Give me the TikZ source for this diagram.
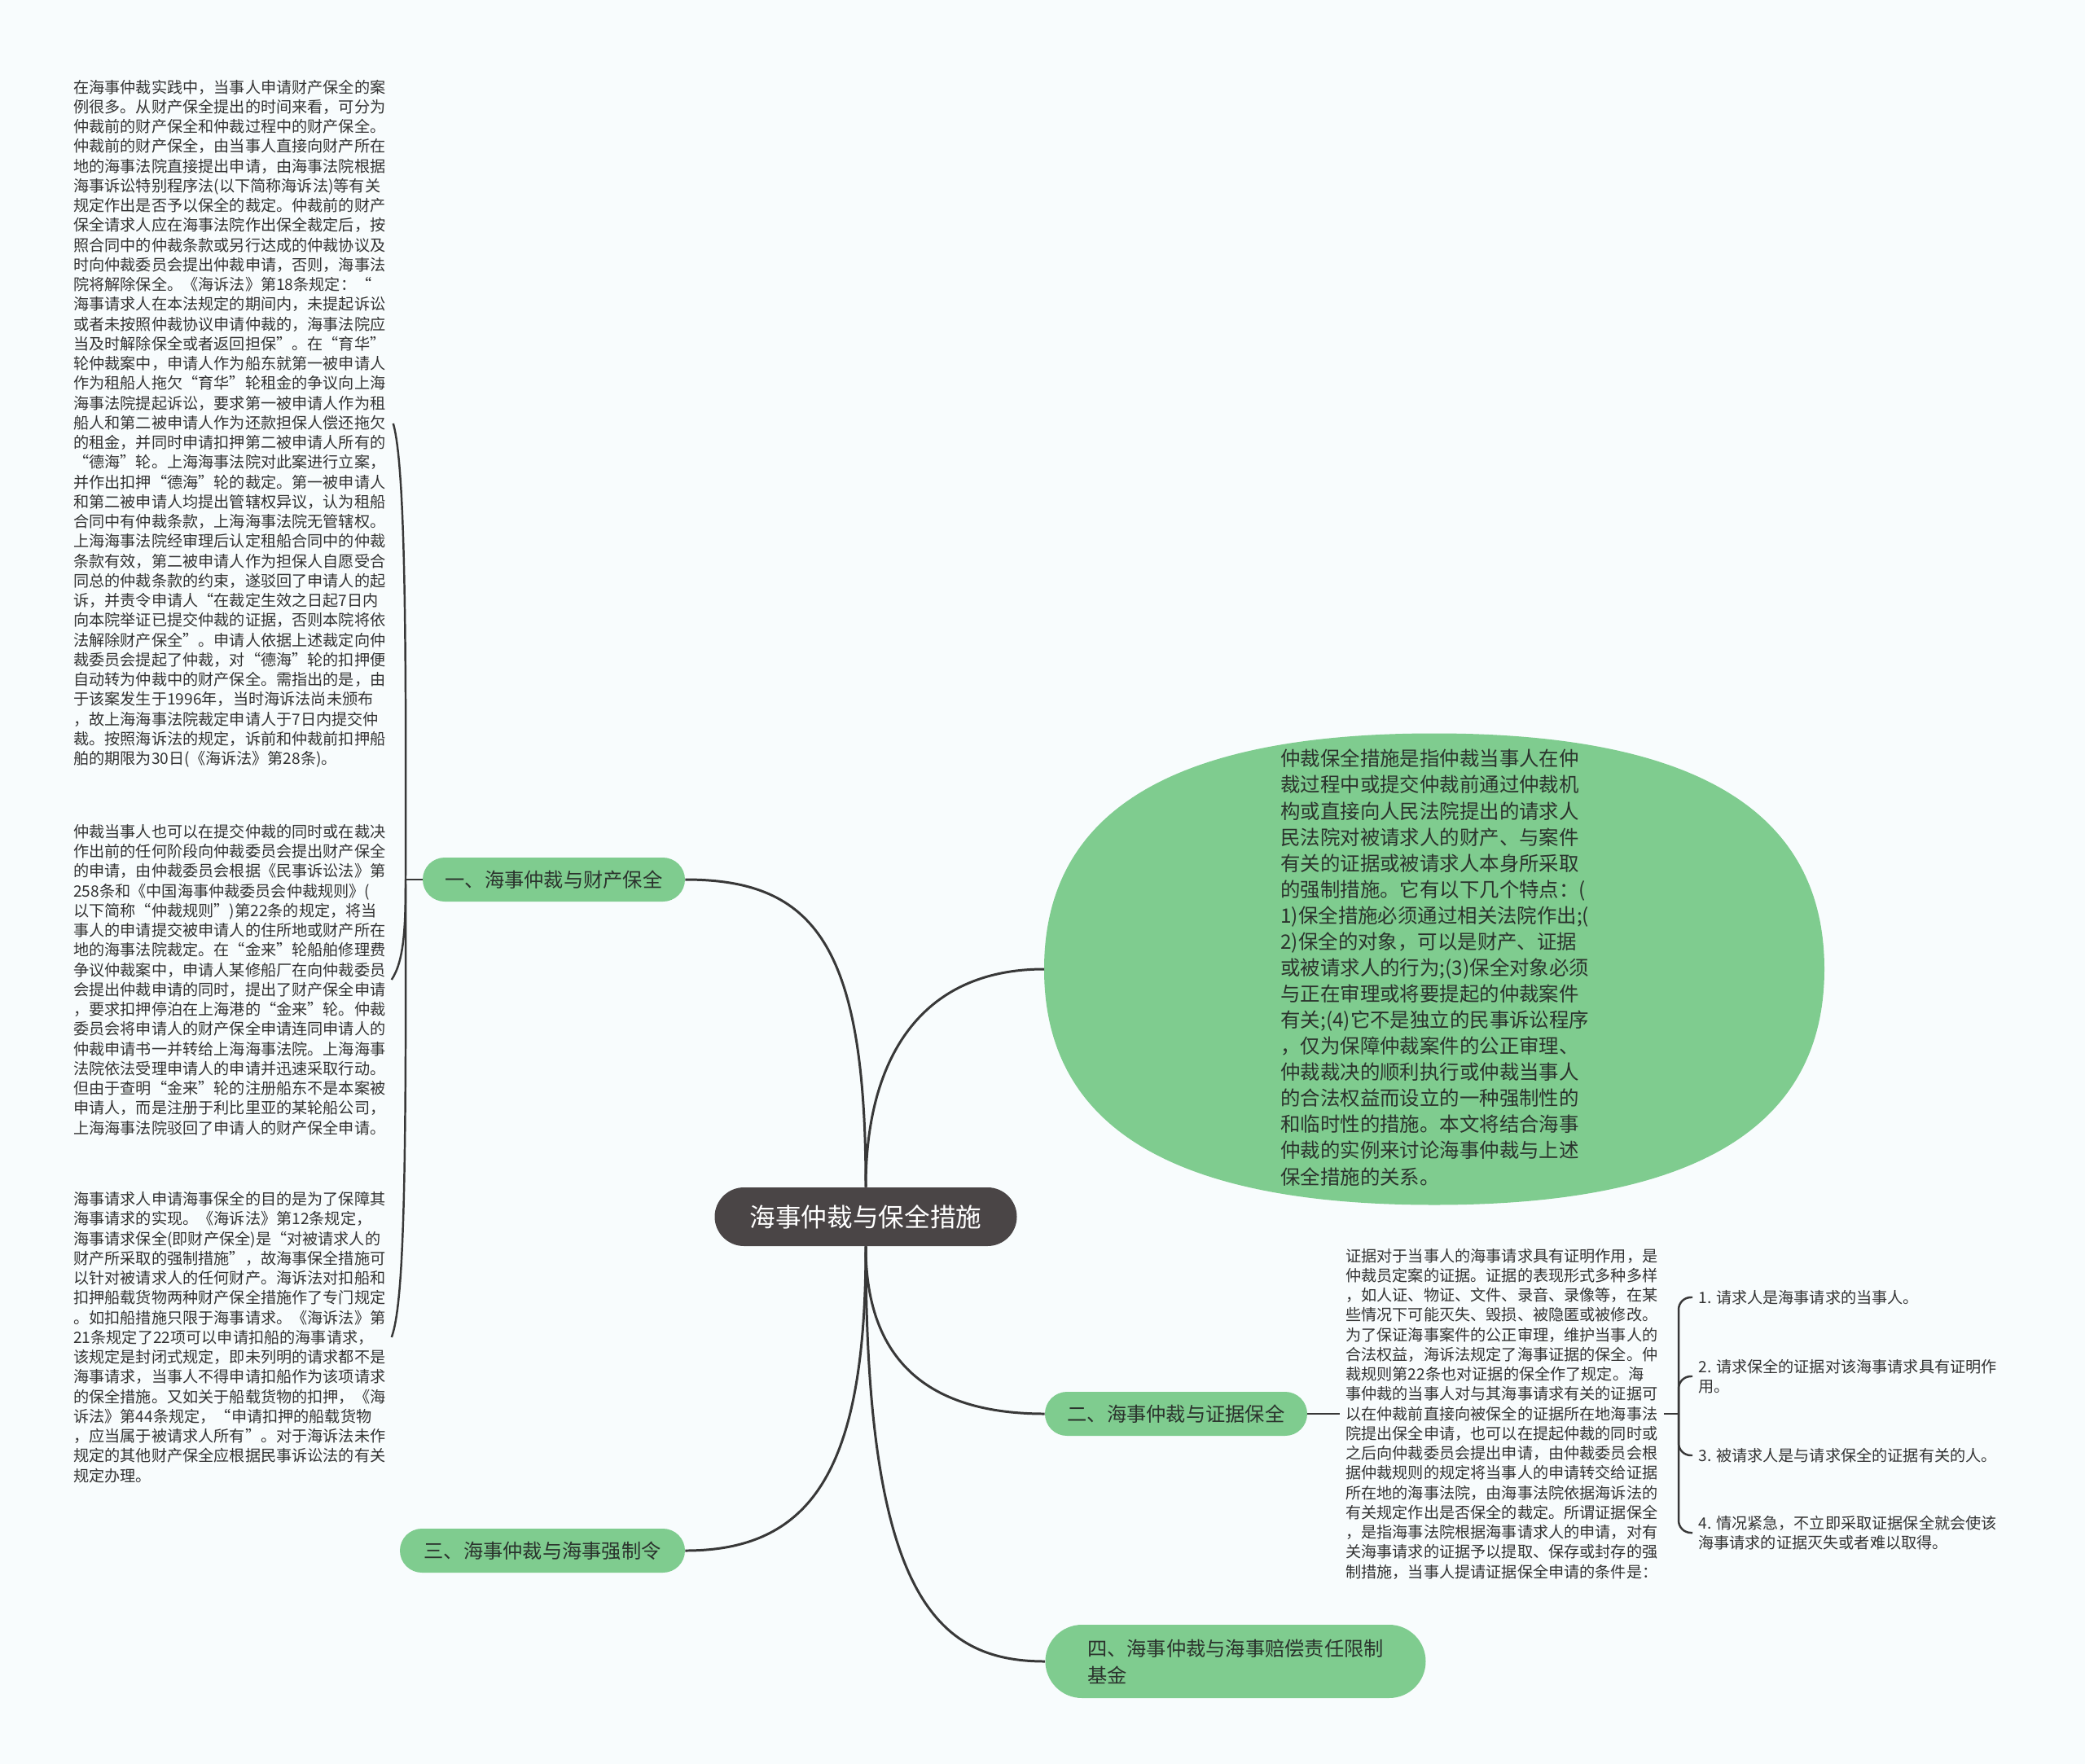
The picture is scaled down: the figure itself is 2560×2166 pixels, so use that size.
\documentclass[tikz,border=0pt]{standalone}
\usepackage{fontspec}
\setmainfont{Noto Sans CJK SC}
\usepackage{xcolor}
\usepackage{tikz}
\usetikzlibrary{calc,positioning}
\definecolor{paper}{HTML}{F8FCFD}
\definecolor{leafgreen}{HTML}{7FCC8F}
\definecolor{rootgray}{HTML}{4A4546}
\definecolor{linkgray}{HTML}{383838}
\definecolor{inkgray}{HTML}{333333}
\definecolor{inkdark}{HTML}{2B332D}
\tikzset{
  link/.style={draw=linkgray,line width=1.7pt},
  brace/.style={draw=linkgray,line width=1.4pt},
  rootbox/.style={fill=rootgray,text=white,rounded corners=7.2mm,minimum width=74.2mm,minimum height=14.4mm,inner sep=0pt,font=\fontsize{18}{22}\selectfont},
  topic/.style={fill=leafgreen,text=inkdark,rounded corners=5.4mm,minimum height=10.8mm,inner sep=0pt,font=\fontsize{13.8}{18.7}\selectfont},
  note/.style={text=inkgray,align=left,inner sep=0pt,anchor=west,font=\fontsize{10.9}{13.8}\selectfont},
  introtext/.style={text=inkdark,align=left,inner sep=0pt,anchor=west,font=\fontsize{13.9}{18.25}\selectfont}
}
\begin{document}
\begin{tikzpicture}[x=0.2mm,y=-0.2mm]
\useasboundingbox (0,0) rectangle (2560,2166);
\fill[paper] (0,0) rectangle (2560,2166);

% intro blob
\fill[leafgreen] (1282,1190) .. controls (1282,996) and (1440,900.5) .. (1761,900.5)
  .. controls (2082,900.5) and (2240,996) .. (2240,1190)
  .. controls (2240,1384) and (2082,1479.5) .. (1761,1479.5)
  .. controls (1440,1479.5) and (1282,1384) .. cycle;
\coordinate (introW) at (1282,1190);

\node[rootbox] (root) at (1063,1494) {海事仲裁与保全措施};
\node[topic,minimum width=64.4mm] (sec1) at (680,1080) {一、海事仲裁与财产保全};
\node[topic,minimum width=64.4mm] (sec2) at (1444,1736) {二、海事仲裁与证据保全};
\node[topic,minimum width=70mm] (sec3) at (666,1904) {三、海事仲裁与海事强制令};
\node[topic,minimum width=93.4mm,minimum height=18mm,rounded corners=9mm,align=left] (sec4) at (1517,2040) {四、海事仲裁与海事赔偿责任限制\\基金};

\node[introtext] (intro) at (1572,1188) {仲裁保全措施是指仲裁当事人在仲\\
裁过程中或提交仲裁前通过仲裁机\\
构或直接向人民法院提出的请求人\\
民法院对被请求人的财产、与案件\\
有关的证据或被请求人本身所采取\\
的强制措施。它有以下几个特点：(\\
1)保全措施必须通过相关法院作出;(\\
2)保全的对象，可以是财产、证据\\
或被请求人的行为;(3)保全对象必须\\
与正在审理或将要提起的仲裁案件\\
有关;(4)它不是独立的民事诉讼程序\\
，仅为保障仲裁案件的公正审理、\\
仲裁裁决的顺利执行或仲裁当事人\\
的合法权益而设立的一种强制性的\\
和临时性的措施。本文将结合海事\\
仲裁的实例来讨论海事仲裁与上述\\
保全措施的关系。};

\node[note] (noteA) at (90,520) {在海事仲裁实践中，当事人申请财产保全的案\\
例很多。从财产保全提出的时间来看，可分为\\
仲裁前的财产保全和仲裁过程中的财产保全。\\
仲裁前的财产保全，由当事人直接向财产所在\\
地的海事法院直接提出申请，由海事法院根据\\
海事诉讼特别程序法(以下简称海诉法)等有关\\
规定作出是否予以保全的裁定。仲裁前的财产\\
保全请求人应在海事法院作出保全裁定后，按\\
照合同中的仲裁条款或另行达成的仲裁协议及\\
时向仲裁委员会提出仲裁申请，否则，海事法\\
院将解除保全。《海诉法》第18条规定：“\\
海事请求人在本法规定的期间内，未提起诉讼\\
或者未按照仲裁协议申请仲裁的，海事法院应\\
当及时解除保全或者返回担保”。在“育华”\\
轮仲裁案中，申请人作为船东就第一被申请人\\
作为租船人拖欠“育华”轮租金的争议向上海\\
海事法院提起诉讼，要求第一被申请人作为租\\
船人和第二被申请人作为还款担保人偿还拖欠\\
的租金，并同时申请扣押第二被申请人所有的\\
“德海”轮。上海海事法院对此案进行立案，\\
并作出扣押“德海”轮的裁定。第一被申请人\\
和第二被申请人均提出管辖权异议，认为租船\\
合同中有仲裁条款，上海海事法院无管辖权。\\
上海海事法院经审理后认定租船合同中的仲裁\\
条款有效，第二被申请人作为担保人自愿受合\\
同总的仲裁条款的约束，遂驳回了申请人的起\\
诉，并责令申请人“在裁定生效之日起7日内\\
向本院举证已提交仲裁的证据，否则本院将依\\
法解除财产保全”。申请人依据上述裁定向仲\\
裁委员会提起了仲裁，对“德海”轮的扣押便\\
自动转为仲裁中的财产保全。需指出的是，由\\
于该案发生于1996年，当时海诉法尚未颁布\\
，故上海海事法院裁定申请人于7日内提交仲\\
裁。按照海诉法的规定，诉前和仲裁前扣押船\\
舶的期限为30日(《海诉法》第28条)。};

\node[note] (noteB) at (90,1203) {仲裁当事人也可以在提交仲裁的同时或在裁决\\
作出前的任何阶段向仲裁委员会提出财产保全\\
的申请，由仲裁委员会根据《民事诉讼法》第\\
258条和《中国海事仲裁委员会仲裁规则》(\\
以下简称“仲裁规则”)第22条的规定，将当\\
事人的申请提交被申请人的住所地或财产所在\\
地的海事法院裁定。在“金来”轮船舶修理费\\
争议仲裁案中，申请人某修船厂在向仲裁委员\\
会提出仲裁申请的同时，提出了财产保全申请\\
，要求扣押停泊在上海港的“金来”轮。仲裁\\
委员会将申请人的财产保全申请连同申请人的\\
仲裁申请书一并转给上海海事法院。上海海事\\
法院依法受理申请人的申请并迅速采取行动。\\
但由于查明“金来”轮的注册船东不是本案被\\
申请人，而是注册于利比里亚的某轮船公司，\\
上海海事法院驳回了申请人的财产保全申请。};

\node[note] (noteC) at (90,1642) {海事请求人申请海事保全的目的是为了保障其\\
海事请求的实现。《海诉法》第12条规定，\\
海事请求保全(即财产保全)是“对被请求人的\\
财产所采取的强制措施”，故海事保全措施可\\
以针对被请求人的任何财产。海诉法对扣船和\\
扣押船载货物两种财产保全措施作了专门规定\\
。如扣船措施只限于海事请求。《海诉法》第\\
21条规定了22项可以申请扣船的海事请求，\\
该规定是封闭式规定，即未列明的请求都不是\\
海事请求，当事人不得申请扣船作为该项请求\\
的保全措施。又如关于船载货物的扣押，《海\\
诉法》第44条规定，“申请扣押的船载货物\\
，应当属于被请求人所有”。对于海诉法未作\\
规定的其他财产保全应根据民事诉讼法的有关\\
规定办理。};

\node[note] (noteD) at (1652,1736) {证据对于当事人的海事请求具有证明作用，是\\
仲裁员定案的证据。证据的表现形式多种多样\\
，如人证、物证、文件、录音、录像等，在某\\
些情况下可能灭失、毁损、被隐匿或被修改。\\
为了保证海事案件的公正审理，维护当事人的\\
合法权益，海诉法规定了海事证据的保全。仲\\
裁规则第22条也对证据的保全作了规定。海\\
事仲裁的当事人对与其海事请求有关的证据可\\
以在仲裁前直接向被保全的证据所在地海事法\\
院提出保全申请，也可以在提起仲裁的同时或\\
之后向仲裁委员会提出申请，由仲裁委员会根\\
据仲裁规则的规定将当事人的申请转交给证据\\
所在地的海事法院，由海事法院依据海诉法的\\
有关规定作出是否保全的裁定。所谓证据保全\\
，是指海事法院根据海事请求人的申请，对有\\
关海事请求的证据予以提取、保存或封存的强\\
制措施，当事人提请证据保全申请的条件是：};

\node[note] (cond1) at (2085,1593) {1. 请求人是海事请求的当事人。};
\node[note] (cond2) at (2085,1690) {2. 请求保全的证据对该海事请求具有证明作\\用。};
\node[note] (cond3) at (2085,1787) {3. 被请求人是与请求保全的证据有关的人。};
\node[note] (cond4) at (2085,1882) {4. 情况紧急，不立即采取证据保全就会使该\\海事请求的证据灭失或者难以取得。};

% main links
\draw[link] (sec1.east) .. controls (1000,1080) and (1063,1160) .. (root.north);
\draw[link] (root.north) .. controls (1063,1300) and (1130,1190) .. (introW);
\draw[link] (root.south) .. controls (1063,1800) and (1000,1904) .. (sec3.east);
\draw[link] (root.south) .. controls (1063,1680) and (1150,1736) .. (sec2.west);
\draw[link] (root.south) .. controls (1063,1960) and (1150,2040) .. (sec4.west);

% left brace
\coordinate (forkA) at (498,1080);
\draw[brace] (sec1.west) -- (forkA);
\draw[brace] (forkA) .. controls (499,760) and (497,570) .. ([xshift=1.8mm]noteA.east);
\draw[brace] (forkA) .. controls (498,1140) and (496,1180) .. ([xshift=1.4mm]noteB.east);
\draw[brace] (forkA) .. controls (499,1450) and (496,1600) .. ([xshift=1.4mm]noteC.east);

% right brace
\coordinate (forkD) at (2061,1736);
\draw[brace] (sec2.east) -- ([xshift=-1.4mm]noteD.west);
\draw[brace] ([xshift=1.4mm]noteD.east) -- (forkD);
\foreach \k in {1,...,4}
  \draw[brace,rounded corners=3mm] (forkD) |- ([xshift=-1.4mm]cond\k.west);
\end{tikzpicture}
\end{document}
